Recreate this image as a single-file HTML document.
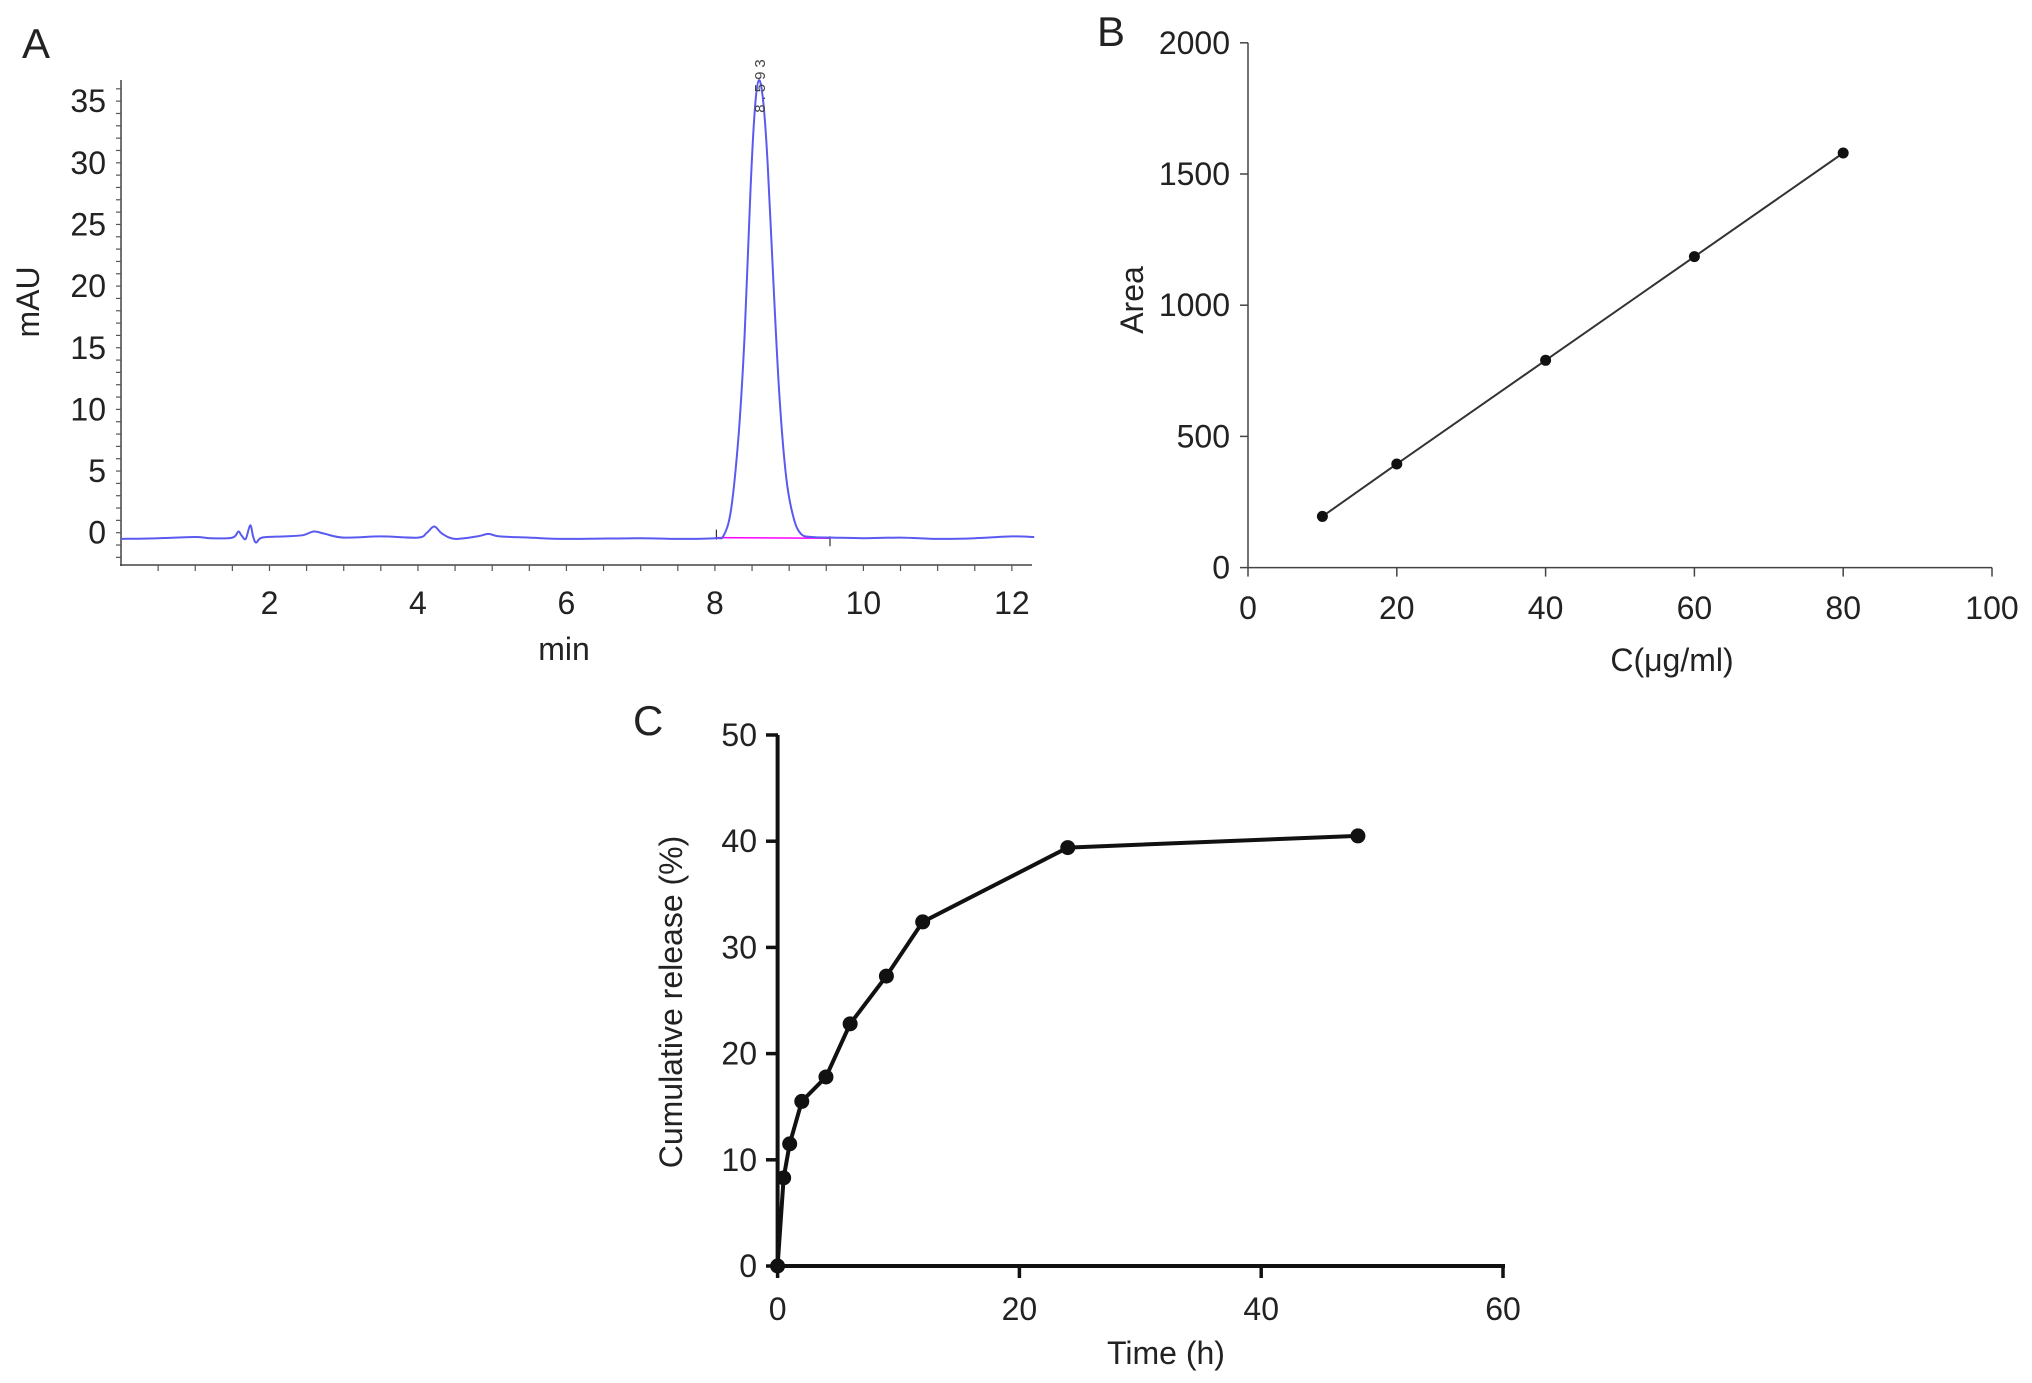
<!DOCTYPE html>
<html><head><meta charset="utf-8"><style>
html,body{margin:0;padding:0;background:#fff;}
svg{display:block;font-family:"Liberation Sans",Arial,sans-serif;}
</style></head><body>
<svg id="fig" width="2032" height="1383" viewBox="0 0 2032 1383" xmlns="http://www.w3.org/2000/svg">
<g id="pA"></g>
<g id="pB"></g>
<g id="pC"></g>
</svg>
<script>
// Panel A data
const aTimes = [0,0.5,1.0,1.2,1.5,1.58,1.62,1.68,1.74,1.78,1.82,1.9,2.2,2.45,2.6,2.75,3.0,3.5,4.0,4.12,4.22,4.33,4.5,4.8,4.95,5.1,5.5,6,7,7.5,8.0,8.12,8.22,8.32,8.4,8.48,8.54,8.593,8.65,8.71,8.79,8.87,8.96,9.06,9.16,9.3,9.6,10,10.5,11,11.5,12,12.3];
const aVals = [-0.5,-0.45,-0.35,-0.45,-0.4,0.1,-0.2,-0.5,0.6,-0.3,-0.8,-0.4,-0.3,-0.2,0.1,-0.1,-0.4,-0.3,-0.4,0.0,0.5,-0.1,-0.5,-0.3,-0.1,-0.3,-0.4,-0.5,-0.45,-0.5,-0.45,-0.2,2.0,8,16,28,34.5,36.7,35,30,20,11,4.5,1.2,-0.1,-0.35,-0.4,-0.45,-0.4,-0.5,-0.45,-0.3,-0.35];
const aXTicks = [2,4,6,8,10,12];
const aYTicks = [0,5,10,15,20,25,30,35];
// Panel B data
const bConc = [10,20,40,60,80];
const bArea = [195,395,790,1185,1580];
const bXTicks = [0,20,40,60,80,100];
const bYTicks = [0,500,1000,1500,2000];
// Panel C data
const cTime = [0,0.5,1,2,4,6,9,12,24,48];
const cRelease = [0,8.3,11.5,15.5,17.8,22.8,27.3,32.4,39.4,40.5];
const cXTicks = [0,20,40,60];
const cYTicks = [0,10,20,30,40,50];

const NS="http://www.w3.org/2000/svg";
const FS=32, TFS=32;
function mk(parent,tag,attrs,text){const e=document.createElementNS(NS,tag);for(const k in attrs)e.setAttribute(k,attrs[k]);if(text!==undefined)e.textContent=text;parent.appendChild(e);return e;}

// ---------- Panel A ----------
(function(){
const g=document.getElementById('pA');
const ax=t=>121+t*74.24, ay=v=>532.7-v*12.33;
let e;
e=mk(g,'text',{x:22,y:58,'font-size':42,fill:'#222'},'A');


e=mk(g,'line',{x1:121,y1:80,x2:121,y2:566,stroke:'#444','stroke-width':1.5});


e=mk(g,'line',{x1:120,y1:565,x2:1032,y2:565,stroke:'#444','stroke-width':1.5});


for(let v=-2;v<=36;v++){mk(g,'line',{x1:116,y1:ay(v),x2:121,y2:ay(v),stroke:'#555','stroke-width':1.2});}
for(let t=0.5;t<=12.3;t+=0.5){mk(g,'line',{x1:ax(t),y1:565,x2:ax(t),y2:571,stroke:'#555','stroke-width':1.2});}
aYTicks.forEach(v=>{const t=mk(g,'text',{x:106,y:ay(v)+11,'font-size':FS,'text-anchor':'end',fill:'#222'},String(v));

});
aXTicks.forEach(v=>{const t=mk(g,'text',{x:ax(v),y:614,'font-size':FS,'text-anchor':'middle',fill:'#222'},String(v));

});
e=mk(g,'text',{x:564,y:660,'font-size':TFS,'text-anchor':'middle',fill:'#222'},'min');


e=mk(g,'text',{x:0,y:0,'font-size':TFS,'text-anchor':'middle',fill:'#222',transform:'translate(39,302) rotate(-90)'},'mAU');


e=mk(g,'line',{x1:ax(8.02),y1:ay(-0.4),x2:ax(9.55),y2:ay(-0.45),stroke:'#f0f','stroke-width':1.5});


mk(g,'line',{x1:ax(8.02),y1:ay(-0.4)-8,x2:ax(8.02),y2:ay(-0.4)+2,stroke:'#333','stroke-width':1.2});
mk(g,'line',{x1:ax(9.55),y1:ay(-0.45)-2,x2:ax(9.55),y2:ay(-0.45)+8,stroke:'#333','stroke-width':1.2});
const p=aTimes.map((t,i)=>[ax(t),ay(aVals[i])]);
let d='M'+p[0][0]+','+p[0][1];
for(let i=0;i<p.length-1;i++){const p0=p[i-1]||p[i],p1=p[i],p2=p[i+1],p3=p[i+2]||p2;
const c1=[p1[0]+(p2[0]-p0[0])/6,p1[1]+(p2[1]-p0[1])/6],c2=[p2[0]-(p3[0]-p1[0])/6,p2[1]-(p3[1]-p1[1])/6];
d+=` C${c1[0].toFixed(1)},${c1[1].toFixed(1)} ${c2[0].toFixed(1)},${c2[1].toFixed(1)} ${p2[0].toFixed(1)},${p2[1].toFixed(1)}`;}
e=mk(g,'path',{d:d,fill:'none',stroke:'#5a5af0','stroke-width':2});


e=mk(g,'text',{x:0,y:0,'font-size':15,'letter-spacing':4,fill:'#444','text-anchor':'middle',transform:`translate(${ax(8.593)+6},${84}) rotate(-90)`},'8.593');


})();

// ---------- Panel B ----------
(function(){
const g=document.getElementById('pB');
const bx=c=>1248+c*7.44, by=v=>567.6-v*0.2624;
let e;
e=mk(g,'text',{x:1097,y:46,'font-size':42,fill:'#222'},'B');


e=mk(g,'line',{x1:1248,y1:by(2000),x2:1248,y2:by(0),stroke:'#444','stroke-width':1.5});


e=mk(g,'line',{x1:1248,y1:by(0),x2:bx(100),y2:by(0),stroke:'#444','stroke-width':1.5});


bYTicks.forEach(v=>{mk(g,'line',{x1:1240,y1:by(v),x2:1248,y2:by(v),stroke:'#444','stroke-width':1.5});
const t=mk(g,'text',{x:1230,y:by(v)+11,'font-size':FS,'text-anchor':'end',fill:'#222'},String(v));

});
bXTicks.forEach(v=>{mk(g,'line',{x1:bx(v),y1:by(0),x2:bx(v),y2:by(0)+9,stroke:'#444','stroke-width':1.5});
const t=mk(g,'text',{x:bx(v),y:619,'font-size':FS,'text-anchor':'middle',fill:'#222'},String(v));

});
e=mk(g,'text',{x:1672,y:671,'font-size':TFS,'text-anchor':'middle',fill:'#222'},'C(μg/ml)');


e=mk(g,'text',{x:0,y:0,'font-size':TFS,'text-anchor':'middle',fill:'#222',transform:'translate(1143,300) rotate(-90)'},'Area');


e=mk(g,'polyline',{points:bConc.map((c,i)=>bx(c)+','+by(bArea[i])).join(' '),fill:'none',stroke:'#333','stroke-width':2});


bConc.forEach((c,i)=>{const m=mk(g,'circle',{cx:bx(c),cy:by(bArea[i]),r:5.5,fill:'#111'});

});
})();

// ---------- Panel C ----------
(function(){
const g=document.getElementById('pC');
const cx=t=>777.6+t*12.09, cy=v=>1266-v*10.62;
let e;
e=mk(g,'text',{x:633,y:735,'font-size':42,fill:'#222'},'C');


e=mk(g,'line',{x1:777.6,y1:cy(50),x2:777.6,y2:cy(0)+2,stroke:'#111','stroke-width':4});


e=mk(g,'line',{x1:776,y1:cy(0),x2:cx(60)+2,y2:cy(0),stroke:'#111','stroke-width':4});


cYTicks.forEach(v=>{mk(g,'line',{x1:766,y1:cy(v),x2:778,y2:cy(v),stroke:'#111','stroke-width':3.5});
const t=mk(g,'text',{x:757,y:cy(v)+11,'font-size':FS,'text-anchor':'end',fill:'#222'},String(v));

});
cXTicks.forEach(v=>{mk(g,'line',{x1:cx(v),y1:cy(0),x2:cx(v),y2:cy(0)+12,stroke:'#111','stroke-width':3.5});
const t=mk(g,'text',{x:cx(v),y:1320,'font-size':FS,'text-anchor':'middle',fill:'#222'},String(v));

});
e=mk(g,'text',{x:1166,y:1364,'font-size':TFS,'text-anchor':'middle',fill:'#222'},'Time (h)');


e=mk(g,'text',{x:0,y:0,'font-size':TFS,'text-anchor':'middle',fill:'#222',transform:'translate(682,1002) rotate(-90)'},'Cumulative release (%)');


e=mk(g,'polyline',{points:cTime.map((t,i)=>cx(t)+','+cy(cRelease[i])).join(' '),fill:'none',stroke:'#111','stroke-width':4,'stroke-linejoin':'round'});


cTime.forEach((t,i)=>{const m=mk(g,'circle',{cx:cx(t),cy:cy(cRelease[i]),r:7.5,fill:'#111'});

});
})();
</script>
</body></html>
